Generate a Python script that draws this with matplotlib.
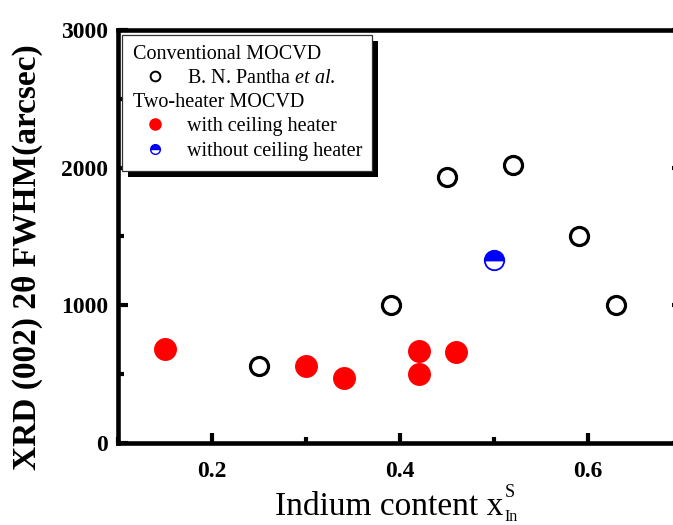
import matplotlib
matplotlib.use("Agg")
import matplotlib.pyplot as plt
from matplotlib.lines import Line2D
from matplotlib.patches import Rectangle
from matplotlib.ticker import MultipleLocator, FormatStrFormatter

plt.rcParams['font.family'] = ['Liberation Serif', 'DejaVu Serif']
plt.rcParams['mathtext.fontset'] = 'custom'
plt.rcParams['mathtext.rm'] = 'Liberation Serif'
plt.rcParams['mathtext.it'] = 'Liberation Serif:italic'
plt.rcParams['mathtext.bf'] = 'Liberation Serif:bold'

# Conventional MOCVD (B. N. Pantha et al.)
pantha_x = [0.25, 0.39, 0.45, 0.52, 0.59, 0.63]
pantha_fwhm = [560, 1000, 1930, 2020, 1500, 1000]

# Two-heater MOCVD with the ceiling heater on
ceiling_x = [0.15, 0.30, 0.34, 0.42, 0.42, 0.46]
ceiling_fwhm = [680, 560, 470, 670, 500, 660]

# Two-heater MOCVD without the ceiling heater
no_ceiling_x = [0.50]
no_ceiling_fwhm = [1330]

x_ticks = [0.2, 0.4, 0.6]
y_ticks = [0, 1000, 2000, 3000]

fig = plt.figure(figsize=(6.73, 5.25), dpi=100)
# right spine sits just past the figure edge
ax = fig.add_axes([0.1753, 0.1562, 0.8381, 0.7867])

ax.plot(pantha_x, pantha_fwhm, ls='none', marker='o', ms=13,
        mfc='none', mec='black', mew=2.3, zorder=3)
ax.plot(ceiling_x, ceiling_fwhm, ls='none', marker='o', ms=15.5,
        mfc='red', mec='red', zorder=3)
ax.plot(no_ceiling_x, no_ceiling_fwhm, ls='none', marker='o', ms=14,
        fillstyle='top', mfc='blue', markerfacecoloralt='white',
        mec='blue', mew=1.3, zorder=3)

ax.set_xlim(0.1, 0.7)
ax.set_ylim(0, 3000)
ax.set_xticks(x_ticks)
ax.set_yticks(y_ticks)
ax.xaxis.set_minor_locator(MultipleLocator(0.1))
ax.yaxis.set_minor_locator(MultipleLocator(500))
ax.xaxis.set_major_formatter(FormatStrFormatter('%.1f'))

for side in ax.spines.values():
    side.set_linewidth(3.3)
ax.tick_params(which='major', direction='in', length=7.5, width=3,
               labelsize=17, right=True, top=False)
ax.tick_params(axis='x', which='major', pad=13)
ax.tick_params(axis='y', which='major', pad=7)
ax.tick_params(which='minor', direction='in', length=4, width=3,
               right=True, top=False)
plt.setp(ax.get_xticklabels() + ax.get_yticklabels(), fontweight='bold')

ax.set_ylabel('XRD (002) 2θ FWHM(arcsec)', fontsize=24, fontweight='bold')
ax.yaxis.set_label_coords(-0.133, 0.45)

# x label with stacked super/subscript on the x
ax.set_xlabel('Indium content x', fontsize=24, labelpad=7)
ax.xaxis.label.set_x(0.481)
xlab = ax.xaxis.label
ax.annotate('S', xy=(1, 0), xycoords=xlab, xytext=(1, 21),
            textcoords='offset pixels', fontsize=13, ha='left', va='bottom')
ax.annotate('In', xy=(1, 0), xycoords=xlab, xytext=(1, 13),
            textcoords='offset pixels', fontsize=11.5, ha='left', va='top',
            annotation_clip=False)

# legend with two group headings
blank = Line2D([], [], ls='none')
handles = [
    blank,
    Line2D([], [], ls='none', marker='o', ms=7, mfc='none', mec='black', mew=1.4),
    blank,
    Line2D([], [], ls='none', marker='o', ms=8, mfc='red', mec='red'),
    Line2D([], [], ls='none', marker='o', ms=7, fillstyle='top', mfc='blue',
           markerfacecoloralt='white', mec='blue', mew=1.0),
]
labels = ['Conventional MOCVD', r'B. N. Pantha $\it{et\ al.}$',
          'Two-heater MOCVD', 'with ceiling heater', 'without ceiling heater']
is_heading = [True, False, True, False, False]

leg = ax.legend(handles, labels, loc='upper left', bbox_to_anchor=(0.008, 0.988),
                borderaxespad=0, fontsize=14.5, fancybox=False, framealpha=1,
                handlelength=2.2, handletextpad=0.5, labelspacing=0.25,
                borderpad=0.5)
leg.get_frame().set_edgecolor('#333333')
leg.get_frame().set_linewidth(0.9)

rows = [r for col in leg._legend_handle_box.get_children() for r in col.get_children()]
for row, head in zip(rows, is_heading):
    if head:
        row.get_children()[0].set_width(0)
        row.sep = 0

# solid drop shadow behind the legend box
fig.canvas.draw()
bb = leg.get_window_extent().transformed(ax.transAxes.inverted())
ax_w, ax_h = ax.get_window_extent().width, ax.get_window_extent().height
dx, dy = 6 / ax_w, 6 / ax_h
ax.add_patch(Rectangle((bb.x0 + dx, bb.y0 - dy), bb.width, bb.height,
                       transform=ax.transAxes, facecolor='black',
                       edgecolor='none', zorder=4.5, clip_on=False))

fig.savefig('out.png', dpi=100)
